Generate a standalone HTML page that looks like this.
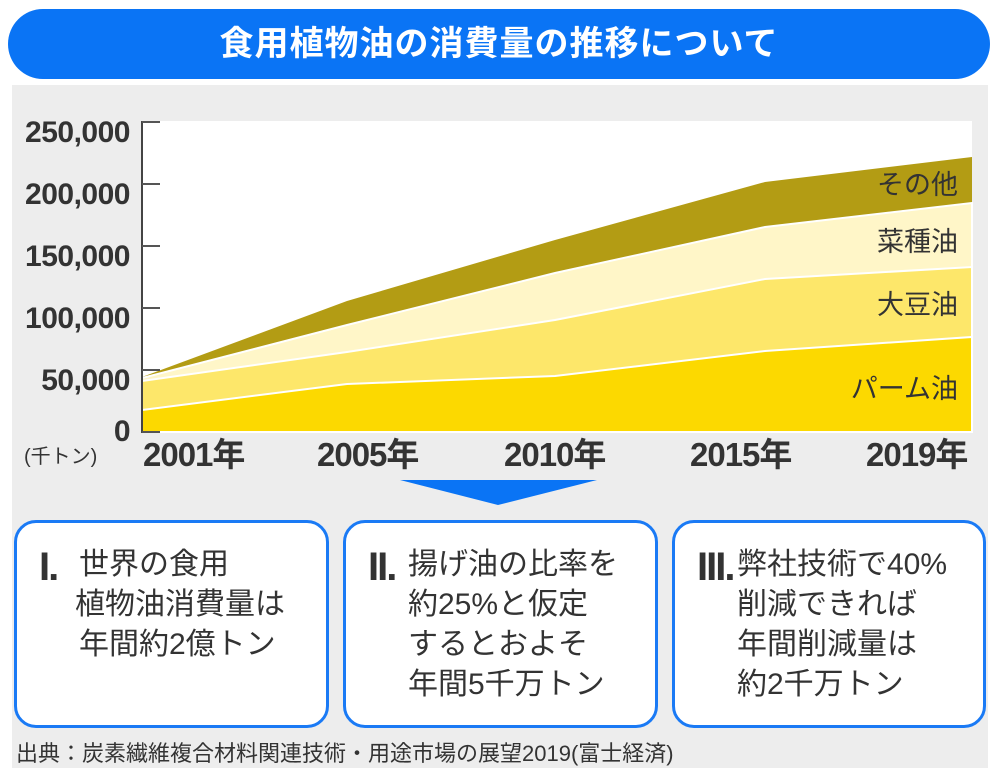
<!DOCTYPE html>
<html><head><meta charset="utf-8"><style>
body{margin:0;width:1000px;height:779px;background:#fff;position:relative;overflow:hidden;font-family:"Liberation Sans","Noto Sans CJK JP",sans-serif;color:#333}
.title{position:absolute;left:8px;top:9px;width:982px;height:70px;border-radius:35px;background:#0a74f5;color:#fff;font-size:34px;font-weight:bold;text-align:center;line-height:70px;letter-spacing:1px}
.panel{position:absolute;left:12px;top:85px;width:976px;height:683px;background:#ededed}
.box{position:absolute;top:520px;height:208px;background:#fff;border:3px solid #1a7af5;border-radius:22px;box-sizing:border-box;font-size:30px;line-height:40px;color:#333}
.num{position:absolute;left:22px;top:24px;font-size:40px;font-weight:bold;letter-spacing:-2px;font-family:"Liberation Sans Narrow","Liberation Sans",sans-serif}
.txt{position:absolute;top:22px;white-space:nowrap}
.src{position:absolute;left:16px;top:736px;font-size:22px;color:#333;white-space:nowrap}
</style></head><body>
<div class="title">食用植物油の消費量の推移について</div>
<div class="panel"></div>
<svg style="position:absolute;left:0;top:0" width="1000" height="779">
<rect x="142" y="121" width="830" height="311" fill="#fff"/>
<polygon points="142,432 142,377 347,301 555,240 765,182 972,157 972,432" fill="#b39c14"/>
<polygon points="142,432 142,378 347,325 555,273 765,227 972,203 972,432" fill="#fff6c8" stroke="#fff" stroke-width="2"/>
<polygon points="142,432 142,381 347,352 555,320 765,279 972,267 972,432" fill="#fde76a" stroke="#fff" stroke-width="2"/>
<polygon points="142,432 142,410 347,384 555,376 765,351 972,337 972,432" fill="#fcd900" stroke="#fff" stroke-width="2"/>
<line x1="142" y1="121" x2="142" y2="433" stroke="#444" stroke-width="2"/>
<g stroke="#555" stroke-width="2"><line x1="142" y1="122" x2="160" y2="122"/><line x1="142" y1="184" x2="160" y2="184"/><line x1="142" y1="246" x2="160" y2="246"/><line x1="142" y1="308" x2="160" y2="308"/><line x1="142" y1="370" x2="160" y2="370"/><line x1="142" y1="432" x2="160" y2="432"/></g>
<g font-size="30" font-weight="bold" fill="#333" text-anchor="end" font-family="Liberation Sans, sans-serif" letter-spacing="-0.5">
<text x="130" y="142">250,000</text><text x="130" y="204">200,000</text><text x="130" y="266">150,000</text><text x="130" y="328">100,000</text><text x="130" y="390">50,000</text><text x="130" y="441">0</text></g>
<text x="24" y="463" font-size="20" fill="#333">(千トン)</text>
<g font-size="33" font-weight="bold" fill="#333" letter-spacing="-1">
<text x="143" y="466">2001年</text><text x="317" y="466">2005年</text><text x="504" y="466">2010年</text><text x="690" y="466">2015年</text><text x="866" y="466">2019年</text></g>
<g font-size="27" fill="#333" text-anchor="end">
<text x="958" y="194">その他</text><text x="958" y="251">菜種油</text><text x="958" y="314">大豆油</text><text x="958" y="398">パーム油</text></g>
<polygon points="400,480 597,480 498,505" fill="#0a74f5"/>
</svg>
<div class="box" style="left:14px;width:315px"><div class="num">I.</div><div class="txt" style="left:62px">世界の食用<br><span style="margin-left:-4px">植物油消費量は</span><br>年間約2億トン</div></div>
<div class="box" style="left:343px;width:315px"><div class="num">II.</div><div class="txt" style="left:62px">揚げ油の比率を<br>約25%と仮定<br>するとおよそ<br>年間5千万トン</div></div>
<div class="box" style="left:672px;width:314px"><div class="num">III.</div><div class="txt" style="left:62px">弊社技術で40%<br>削減できれば<br>年間削減量は<br>約2千万トン</div></div>
<div class="src">出典：炭素繊維複合材料関連技術・用途市場の展望2019(富士経済)</div>
</body></html>
